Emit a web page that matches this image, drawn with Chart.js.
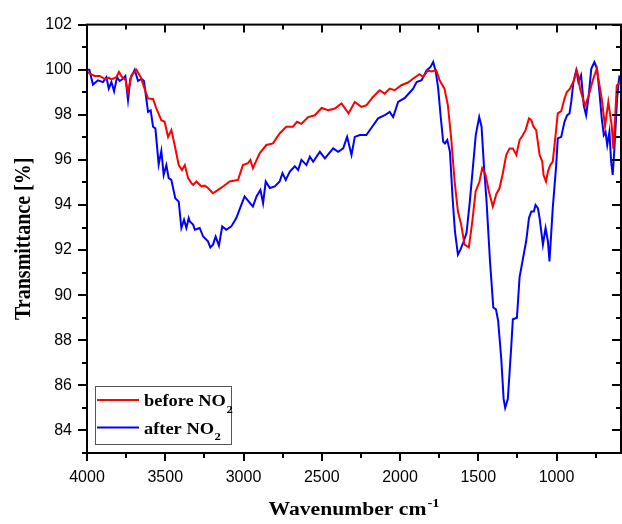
<!DOCTYPE html>
<html>
<head>
<meta charset="UTF-8" />
<title>FTIR before / after NO2</title>
<style>
  body { margin: 0; padding: 0; background: #fff; }
  .chart-box { width: 622px; height: 524px; position: relative; }
</style>
</head>
<body>
<div class="chart-box"><canvas id="ftirChart"></canvas></div>

<script src="https://cdn.jsdelivr.net/npm/chart.js"></script>
<script>
// spectra (wavenumber in cm-1, transmittance in %)
const beforeWave = [4000, 3975, 3951, 3919, 3882, 3860, 3844, 3812, 3796, 3776, 3755, 3738, 3716, 3695, 3684, 3657, 3636, 3610, 3578, 3557,
  3525, 3504, 3482, 3461, 3440, 3414, 3393, 3375, 3354, 3333, 3322, 3301, 3269, 3248, 3227, 3195, 3163, 3131, 3088, 3035,
  3004, 2972, 2956, 2940, 2897, 2854, 2812, 2769, 2727, 2684, 2658, 2630, 2587, 2544, 2501, 2459, 2416, 2374, 2329, 2289,
  2247, 2215, 2173, 2130, 2098, 2066, 2034, 1992, 1949, 1911, 1875, 1853, 1822, 1800, 1768, 1747, 1716, 1694, 1673, 1651,
  1630, 1609, 1588, 1560, 1538, 1517, 1492, 1475, 1453, 1432, 1407, 1385, 1364, 1343, 1321, 1300, 1279, 1257, 1236, 1215,
  1198, 1176, 1161, 1147, 1130, 1108, 1091, 1083, 1067, 1055, 1040, 1024, 1006, 992, 970, 949, 935, 914, 890, 871,
  860, 850, 818, 797, 765, 743, 711, 690, 669, 647, 637, 626, 615, 600];
const beforeT = [99.9, 99.8, 99.72, 99.72, 99.57, 99.65, 99.57, 99.67, 99.9, 99.67, 99.57, 99.0, 99.75, 99.9, 100.0, 99.67, 99.23, 98.72, 98.7, 98.28,
  97.76, 97.69, 97.02, 97.32, 96.66, 95.77, 95.55, 95.77, 95.19, 94.97, 94.89, 95.04, 94.82, 94.86, 94.75, 94.52, 94.67, 94.82, 95.04, 95.11,
  95.77, 95.85, 96.0, 95.63, 96.29, 96.66, 96.73, 97.17, 97.47, 97.47, 97.69, 97.6, 97.9, 97.98, 98.3, 98.2, 98.28, 98.5, 98.06, 98.57,
  98.35, 98.42, 98.79, 99.09, 98.94, 99.16, 99.09, 99.31, 99.43, 99.63, 99.8, 99.67, 99.97, 99.92, 99.97, 99.53, 99.16, 98.42, 96.95, 95.04,
  93.71, 93.13, 92.24, 92.12, 93.27, 94.6, 95.04, 95.63, 95.33, 94.6, 93.93, 94.48, 94.75, 95.41, 96.22, 96.51, 96.51, 96.22, 96.88, 97.1,
  97.32, 97.84, 97.76, 97.47, 97.32, 96.22, 95.92, 95.33, 95.04, 95.48, 95.77, 95.92, 97.1, 98.06, 98.16, 98.72, 99.0, 99.16, 99.5, 99.97,
  99.7, 99.16, 98.4, 98.8, 99.6, 100.04, 98.7, 97.5, 98.57, 97.5, 96.5, 97.8, 99.3, 99.4];

const afterWave = [4000, 3985, 3962, 3930, 3898, 3876, 3861, 3844, 3827, 3808, 3791, 3770, 3755, 3738, 3723, 3695, 3674, 3652, 3636, 3610,
  3593, 3578, 3563, 3542, 3525, 3510, 3493, 3478, 3461, 3436, 3414, 3397, 3380, 3365, 3350, 3343, 3322, 3311, 3280, 3258,
  3227, 3212, 3195, 3178, 3157, 3136, 3110, 3078, 3046, 3014, 2993, 2966, 2940, 2917, 2892, 2875, 2858, 2832, 2800, 2769,
  2751, 2730, 2704, 2672, 2651, 2630, 2598, 2576, 2555, 2512, 2480, 2427, 2395, 2363, 2338, 2310, 2289, 2257, 2215, 2178,
  2140, 2098, 2066, 2044, 2012, 1969, 1937, 1916, 1894, 1862, 1830, 1805, 1788, 1771, 1756, 1741, 1724, 1713, 1698, 1681,
  1664, 1649, 1630, 1614, 1593, 1575, 1554, 1533, 1516, 1494, 1479, 1464, 1447, 1425, 1404, 1387, 1373, 1353, 1338, 1328,
  1311, 1289, 1279, 1253, 1236, 1215, 1194, 1176, 1161, 1145, 1134, 1119, 1108, 1087, 1070, 1055, 1045, 1024, 1002, 992,
  970, 949, 932, 917, 906, 892, 874, 860, 843, 826, 811, 794, 778, 758, 741, 726, 711, 698, 687, 676,
  662, 651, 641, 630, 613, 598];
const afterT = [100.0, 100.0, 99.34, 99.53, 99.45, 99.67, 99.16, 99.45, 99.04, 99.67, 99.5, 99.6, 99.72, 98.65, 99.6, 100.0, 99.5, 99.6, 99.5, 98.13,
  98.2, 97.47, 97.4, 95.8, 96.4, 95.33, 95.77, 95.19, 95.11, 94.3, 94.15, 92.98, 93.35, 92.98, 93.42, 93.27, 93.13, 92.9, 92.98, 92.6,
  92.39, 92.12, 92.24, 92.6, 92.2, 93.05, 92.9, 93.05, 93.42, 94.0, 94.38, 94.15, 93.93, 94.38, 94.67, 94.08, 95.04, 94.75, 94.82, 95.04,
  95.41, 95.11, 95.48, 95.72, 95.55, 96.0, 95.77, 96.14, 95.92, 96.36, 96.07, 96.51, 96.36, 96.51, 97.02, 96.22, 97.02, 97.1, 97.1, 97.47,
  97.84, 97.98, 98.13, 97.9, 98.57, 98.75, 99.0, 99.16, 99.45, 99.53, 99.97, 100.12, 100.34, 99.9, 99.16, 97.98, 96.8, 96.73, 96.88, 96.36,
  94.3, 92.83, 91.8, 92.02, 92.39, 92.76, 94.15, 95.77, 97.1, 97.9, 97.47, 95.77, 94.15, 91.5, 89.45, 89.37, 88.86, 87.17, 85.4, 85.0,
  85.4, 87.75, 88.93, 89.0, 90.8, 91.6, 92.39, 93.42, 93.71, 93.71, 94.0, 93.86, 93.42, 92.24, 92.98, 92.39, 91.5, 93.86, 95.77, 96.95,
  97.02, 97.69, 97.98, 98.06, 98.57, 99.45, 99.97, 99.45, 99.75, 98.42, 97.98, 98.86, 100.04, 100.34, 100.04, 99.01, 97.84, 97.1, 97.24, 96.66,
  97.24, 95.92, 95.33, 96.51, 98.72, 99.75];

const seriesNames = ["before NO2", "after NO2"];
const legendText = [["before NO", "2"], ["after NO", "2"]];
const seriesColors = ["#ff0000", "#0000ff"];

const xTicks = [4000, 3500, 3000, 2500, 2000, 1500, 1000];
const xMinorTicks = [3750, 3250, 2750, 2250, 1750, 1250, 750];
const yTicks = [84, 86, 88, 90, 92, 94, 96, 98, 100, 102];
const yMinorTicks = [83, 85, 87, 89, 91, 93, 95, 97, 99, 101];

const serif = '"Liberation Serif", "Times New Roman", serif';

function toPoints(xs, ys) {
  return xs.map((x, i) => ({ x: x, y: ys[i] }));
}

// frame, ticks, axis titles and legend (the original uses sub/superscripts)
const framePlugin = {
  id: "frame",
  afterDraw(chart) {
    const ctx = chart.ctx;
    const { left, right, top, bottom } = chart.chartArea;
    const xs = chart.scales.x;
    const ys = chart.scales.y;
    ctx.save();
    ctx.strokeStyle = "#000";
    ctx.lineWidth = 2;
    ctx.strokeRect(left, top, right - left, bottom - top);

    ctx.beginPath();
    const xTick = (v, len) => {
      const p = Math.round(xs.getPixelForValue(v));
      ctx.moveTo(p, bottom); ctx.lineTo(p, bottom + len);
      ctx.moveTo(p, top); ctx.lineTo(p, top + len);
    };
    const yTick = (v, len) => {
      const p = Math.round(ys.getPixelForValue(v));
      ctx.moveTo(left, p); ctx.lineTo(left - len, p);
      ctx.moveTo(right, p); ctx.lineTo(right - len, p);
    };
    xTicks.forEach(v => xTick(v, 8));
    xMinorTicks.forEach(v => xTick(v, 5));
    yTicks.forEach(v => yTick(v, 9));
    yMinorTicks.forEach(v => yTick(v, 5));
    ctx.stroke();

    ctx.fillStyle = "#000";
    ctx.textBaseline = "alphabetic";

    // x title: Wavenumber cm-1
    const mainFont = "bold 18px " + serif;
    const supFont = "bold 12px " + serif;
    ctx.font = mainFont;
    const w1 = ctx.measureText("Wavenumber cm").width * 1.2;
    ctx.font = supFont;
    const w2 = ctx.measureText("-1").width * 1.2;
    let x0 = (left + right) / 2 - (w1 + w2 + 1) / 2;
    ctx.save();
    ctx.translate(x0, 515);
    ctx.scale(1.2, 1);
    ctx.font = mainFont;
    ctx.fillText("Wavenumber cm", 0, 0);
    ctx.restore();
    ctx.save();
    ctx.translate(x0 + w1 + 1, 507);
    ctx.scale(1.2, 1);
    ctx.font = supFont;
    ctx.fillText("-1", 0, 0);
    ctx.restore();

    // y title
    ctx.save();
    ctx.translate(29.5, (top + bottom) / 2);
    ctx.rotate(-Math.PI / 2);
    ctx.scale(1, 1.2);
    ctx.font = "bold 20px " + serif;
    ctx.textAlign = "center";
    ctx.fillText("Transmittance [%]", 0, 0);
    ctx.restore();

    // legend
    ctx.lineWidth = 1;
    ctx.strokeStyle = "#555";
    ctx.strokeRect(95.5, 386.5, 136, 58);
    const rows = [400, 427.5];
    rows.forEach((ly, i) => {
      ctx.strokeStyle = seriesColors[i];
      ctx.lineWidth = 2;
      ctx.beginPath();
      ctx.moveTo(97, ly);
      ctx.lineTo(139, ly);
      ctx.stroke();
      const [txt, sub] = legendText[i];
      ctx.font = "bold 16px " + serif;
      const tw = ctx.measureText(txt).width * 1.15;
      ctx.save();
      ctx.translate(144, ly + 6);
      ctx.scale(1.15, 1);
      ctx.fillText(txt, 0, 0);
      ctx.restore();
      ctx.save();
      ctx.translate(144 + tw + 0.5, ly + 12.5);
      ctx.scale(1.15, 1);
      ctx.font = "bold 11px " + serif;
      ctx.fillText(sub, 0, 0);
      ctx.restore();
    });
    ctx.restore();
  }
};

const chart = new Chart(document.getElementById("ftirChart"), {
  type: "line",
  data: {
    datasets: [
      {
        label: seriesNames[0],
        data: toPoints(beforeWave, beforeT),
        borderColor: seriesColors[0],
        borderWidth: 2,
        pointRadius: 0,
        fill: false,
        tension: 0,
      },
      {
        label: seriesNames[1],
        data: toPoints(afterWave, afterT),
        borderColor: seriesColors[1],
        borderWidth: 2,
        pointRadius: 0,
        fill: false,
        tension: 0,
      },
    ],
  },
  options: {
    responsive: true,
    maintainAspectRatio: false,
    animation: false,
    layout: { padding: { top: 24, right: 1, left: 0, bottom: 0 } },
    plugins: { legend: { display: false }, tooltip: { enabled: false } },
    scales: {
      x: {
        type: "linear",
        reverse: true,
        min: 588,
        max: 4000,
        afterBuildTicks: (s) => { s.ticks = xTicks.map(v => ({ value: v })); },
        afterFit: (s) => { s.height = 71; },
        grid: { display: false, drawTicks: false, tickLength: 0 },
        border: { display: false },
        ticks: {
          color: "#000",
          padding: 15,
          maxRotation: 0,
          autoSkip: false,
          callback: (v) => String(v),
          font: { family: '"Liberation Sans", Arial, sans-serif', size: 16 },
        },
      },
      y: {
        min: 83,
        max: 102,
        afterBuildTicks: (s) => { s.ticks = yTicks.map(v => ({ value: v })); },
        afterFit: (s) => { s.width = 87; },
        grid: { display: false, drawTicks: false, tickLength: 0 },
        border: { display: false },
        ticks: {
          color: "#000",
          padding: 15,
          autoSkip: false,
          callback: (v) => String(v),
          font: { family: '"Liberation Sans", Arial, sans-serif', size: 16 },
        },
      },
    },
  },
  plugins: [framePlugin],
});
</script>
</body>
</html>
